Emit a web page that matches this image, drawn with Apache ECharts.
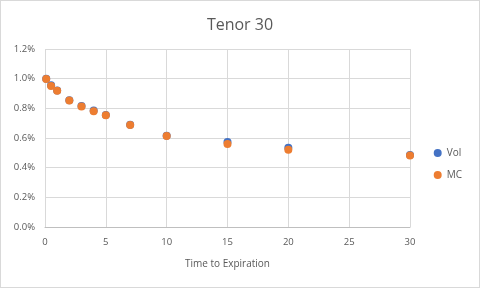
<!DOCTYPE html>
<html><head><meta charset="utf-8">
<script src="https://cdn.jsdelivr.net/npm/echarts@6/dist/echarts.min.js"></script>
<style>html,body{margin:0;padding:0;background:#fff}#c{width:480px;height:288px;box-sizing:border-box;border:1px solid #d9d9d9}</style>
</head><body><div id="c"></div>
<script>
const times = [0.1, 0.5, 1, 2, 3, 4, 5, 7, 10, 15, 20, 30];
const volValues = [1.0, 0.955, 0.92, 0.855, 0.815, 0.785, 0.755, 0.69, 0.615, 0.573, 0.535, 0.485];
const mcValues  = [0.998, 0.951, 0.918, 0.853, 0.813, 0.78, 0.753, 0.687, 0.613, 0.56, 0.52, 0.482];
const seriesNames = ['Vol', 'MC'];
const font = 'Open Sans, Liberation Sans, sans-serif';
const chart = echarts.init(document.getElementById('c'), null, {renderer: 'canvas'});
chart.setOption({
  animation: false,
  title: {text: 'Tenor 30', left: 'center', top: 11, textStyle: {fontFamily: font, fontSize: 16, fontWeight: 'normal', color: '#595959'}},
  grid: {left: 44, right: 69, top: 48, bottom: 60},
  legend: {orient: 'vertical', right: 12, top: 142, itemWidth: 8, itemHeight: 8, itemGap: 12, icon: 'circle',
    textStyle: {fontFamily: font, fontSize: 10, color: '#595959'}, data: seriesNames},
  xAxis: {type: 'value', min: 0, max: 30, interval: 5, name: 'Time to Expiration', nameLocation: 'middle', nameGap: 32,
    nameTextStyle: {fontFamily: font, fontSize: 10, color: '#595959'},
    axisLine: {show: true, lineStyle: {color: '#bfbfbf'}}, axisTick: {show: false},
    axisLabel: {fontFamily: font, fontSize: 9.5, color: '#595959', margin: 10},
    splitLine: {show: true, lineStyle: {color: '#d9d9d9'}}},
  yAxis: {type: 'value', min: 0, max: 1.2, interval: 0.2,
    axisLine: {show: false}, axisTick: {show: false},
    axisLabel: {fontFamily: font, fontSize: 9.5, color: '#595959', margin: 10, formatter: v => v.toFixed(1) + '%'},
    splitLine: {show: true, lineStyle: {color: '#d9d9d9'}}},
  series: [
    {name: seriesNames[0], type: 'scatter', symbolSize: 8, itemStyle: {color: '#4472C4', opacity: 1}, data: times.map((t, i) => [t, volValues[i]])},
    {name: seriesNames[1], type: 'scatter', symbolSize: 8, itemStyle: {color: '#ED7D31', opacity: 1}, data: times.map((t, i) => [t, mcValues[i]])}
  ]
});
</script></body></html>
